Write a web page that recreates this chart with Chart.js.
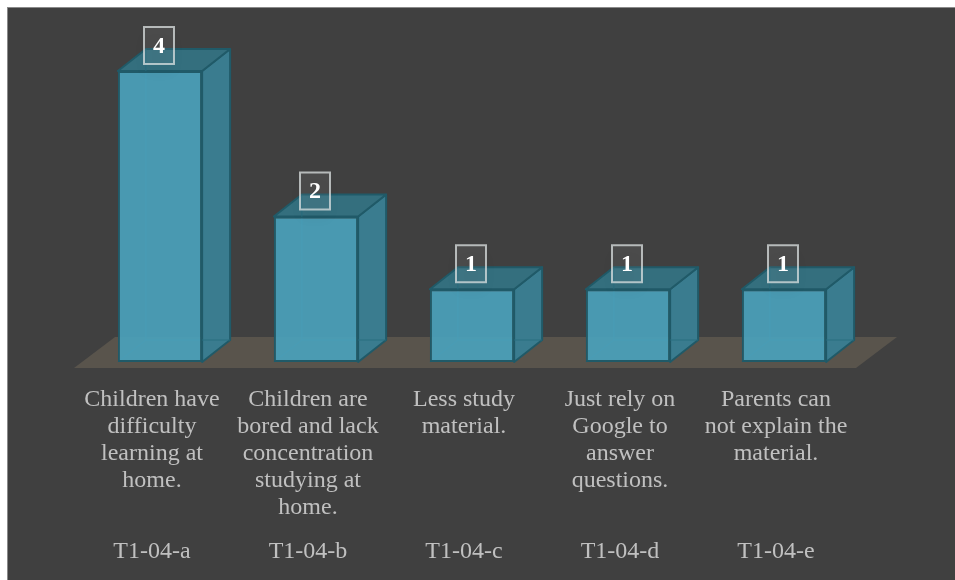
<!DOCTYPE html>
<html>
<head>
<meta charset="utf-8">
<script src="https://cdn.jsdelivr.net/npm/chart.js@4.4.1/dist/chart.umd.min.js"></script>
<style>
  html, body { margin: 0; padding: 0; background: #ffffff; overflow: hidden; }
  #frame {
    position: absolute; left: 7px; top: 7px;
    width: 947px; height: 572px;
    border-left: 1px solid #8a8a8a; border-top: 1px solid #8a8a8a;
    background: #404040;
  }
  #myChart { display: block; }
</style>
</head>
<body>
<div id="frame"><canvas id="myChart" width="947" height="572"></canvas></div>
<script>
// donnees du graphique
const descriptions = [
  ["Children have", "difficulty", "learning at", "home."],
  ["Children are", "bored and lack", "concentration", "studying at", "home."],
  ["Less study", "material."],
  ["Just rely on", "Google to", "answer", "questions."],
  ["Parents can", "not explain the", "material."]
];
const codes = ["T1-04-a", "T1-04-b", "T1-04-c", "T1-04-d", "T1-04-e"];
const counts = [4, 2, 1, 1, 1];

// profondeur 3D des barres et du sol
const DX = 28, DY = 22;
const FLOOR_DX = 41, FLOOR_DY = 31;

const bars3d = {
  id: "bars3d",
  beforeDatasetsDraw(chart) {
    const c = chart.ctx;
    const xs = chart.scales.x;
    const base = chart.scales.y.getPixelForValue(0);
    // sol
    const fl = xs.left - 8, fr = xs.right - 6;
    c.save();
    c.fillStyle = "#59544c";
    c.beginPath();
    c.moveTo(fl, base + 6);
    c.lineTo(fr, base + 6);
    c.lineTo(fr + FLOOR_DX, base + 6 - FLOOR_DY);
    c.lineTo(fl + FLOOR_DX, base + 6 - FLOOR_DY);
    c.closePath();
    c.fill();

    chart.getDatasetMeta(0).data.forEach((bar) => {
      const x1 = bar.x - bar.width / 2, x2 = bar.x + bar.width / 2;
      const top = bar.y, bot = bar.base;
      c.lineJoin = "round";
      c.lineWidth = 2;
      c.strokeStyle = "#205a68";
      // face droite
      c.fillStyle = "#3a7c8f";
      c.beginPath();
      c.moveTo(x2, top);
      c.lineTo(x2 + DX, top - DY);
      c.lineTo(x2 + DX, bot - DY);
      c.lineTo(x2, bot);
      c.closePath();
      c.fill();
      c.stroke();
      // face du dessus
      c.fillStyle = "#346f7e";
      c.beginPath();
      c.moveTo(x1, top);
      c.lineTo(x1 + DX, top - DY);
      c.lineTo(x2 + DX, top - DY);
      c.lineTo(x2, top);
      c.closePath();
      c.fill();
      c.stroke();
      // aretes cachees vues a travers la face avant
      c.strokeStyle = "rgba(40,110,128,0.9)";
      c.lineWidth = 1;
      c.beginPath();
      c.moveTo(x1 + DX, top - DY);
      c.lineTo(x1 + DX, bot - DY);
      c.lineTo(x2 + DX, bot - DY);
      c.moveTo(x1 + DX, bot - DY);
      c.lineTo(x1, bot);
      c.stroke();
    });
    c.restore();
  },
  afterDatasetsDraw(chart) {
    const c = chart.ctx;
    const ds = chart.data.datasets[0];
    chart.getDatasetMeta(0).data.forEach((bar, i) => {
      const w = 30, h = 37;
      const bx = bar.x - w / 2 - 1, by = bar.y - 7 - h;
      c.save();
      c.shadowColor = "rgba(0,0,0,0.5)";
      c.shadowBlur = 14;
      c.shadowOffsetY = 9;
      c.fillStyle = "rgba(255,255,255,0.06)";
      c.fillRect(bx, by, w, h);
      c.restore();
      c.save();
      c.strokeStyle = "rgba(220,225,225,0.75)";
      c.lineWidth = 2;
      c.strokeRect(bx, by, w, h);
      c.fillStyle = "#ffffff";
      c.font = "bold 24px 'Liberation Serif', 'Times New Roman', serif";
      c.textAlign = "center";
      c.textBaseline = "middle";
      c.fillText(String(ds.data[i]), bx + w / 2, by + h / 2 + 1);
      c.restore();
    });
  }
};

const ctx = document.getElementById("myChart").getContext("2d");
const labelFont = { family: "'Liberation Serif', 'Times New Roman', serif", size: 24, lineHeight: 1.125 };

const chart = new Chart(ctx, {
  type: "bar",
  data: {
    labels: descriptions,
    datasets: [
      {
        data: counts,
        backgroundColor: "rgba(74,160,186,0.93)",
        borderColor: "#205a68",
        borderWidth: 2,
        borderSkipped: false,
        barPercentage: 0.54,
        categoryPercentage: 1
      }
    ]
  },
  options: {
    responsive: false,
    animation: false,
    layout: { padding: { left: 74, right: 93, top: 63, bottom: 7 } },
    plugins: { legend: { display: false }, tooltip: { enabled: false } },
    scales: {
      y: { display: false, min: 0, max: 4 },
      x: {
        weight: 0,
        grid: { display: false },
        border: { display: false },
        afterFit: (s) => { s.height = 156; },
        ticks: {
          color: "#c0c0c0", font: labelFont, padding: 16, labelOffset: -8,
          autoSkip: false, maxRotation: 0, minRotation: 0
        }
      },
      x2: {
        type: "category",
        labels: codes,
        position: "bottom",
        weight: 1,
        offset: true,
        grid: { display: false },
        border: { display: false },
        afterFit: (s) => { s.height = 55; },
        ticks: {
          color: "#c0c0c0", font: labelFont, padding: 12, labelOffset: -8,
          autoSkip: false, maxRotation: 0, minRotation: 0
        }
      }
    }
  },
  plugins: [bars3d]
});
</script>
</body>
</html>
